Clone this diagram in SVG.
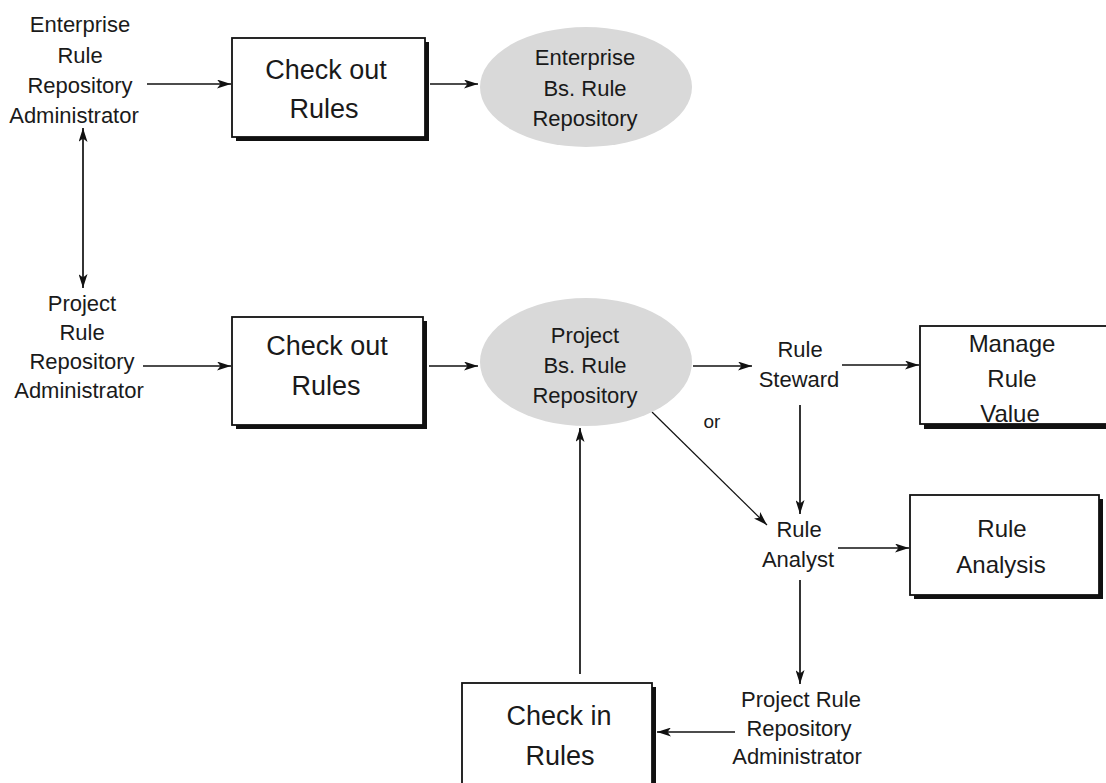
<svg xmlns="http://www.w3.org/2000/svg" width="1106" height="783" viewBox="0 0 1106 783">
  <style>
    .lbl { font-family: "Liberation Sans", Arial, sans-serif; font-size: 22px; fill: #1a1a1a; text-anchor: middle; }
    .big { font-family: "Liberation Sans", Arial, sans-serif; font-size: 27px; fill: #1a1a1a; text-anchor: middle; }
    .mid { font-family: "Liberation Sans", Arial, sans-serif; font-size: 24px; fill: #1a1a1a; text-anchor: middle; }
    .box { fill: #ffffff; stroke: #111; stroke-width: 1.8; }
    .shadow { fill: #111; }
    .repo { fill: #d9d9d9; stroke: none; }
    .edge { stroke: #111; stroke-width: 1.7; fill: none; }
    .thin { stroke: #111; stroke-width: 1.2; fill: none; }
  </style>
  <defs>
    <marker id="arrow" viewBox="0 0 14 9" refX="14" refY="4.5" markerWidth="14" markerHeight="9" markerUnits="userSpaceOnUse" orient="auto-start-reverse">
      <path d="M0,0 L14,4.5 L0,9 L3.5,4.5 z" fill="#111"/>
    </marker>
  </defs>
  <rect width="1106" height="783" fill="#ffffff"/>

  <!-- connectors -->
  <g id="connectors">
    <line class="edge" x1="147" y1="84" x2="231" y2="84" marker-end="url(#arrow)"/>
    <line class="edge" x1="430" y1="84" x2="478" y2="84" marker-end="url(#arrow)"/>
    <line class="edge" x1="83" y1="128" x2="83" y2="288" marker-start="url(#arrow)" marker-end="url(#arrow)"/>
    <line class="edge" x1="143" y1="366" x2="231" y2="366" marker-end="url(#arrow)"/>
    <line class="edge" x1="429" y1="366" x2="478" y2="366" marker-end="url(#arrow)"/>
    <line class="edge" x1="693" y1="366" x2="752" y2="366" marker-end="url(#arrow)"/>
    <line class="edge" x1="842" y1="365" x2="919" y2="365" marker-end="url(#arrow)"/>
    <line class="edge" x1="800" y1="405" x2="800" y2="514" marker-end="url(#arrow)"/>
    <line class="thin" x1="652" y1="412" x2="767" y2="525" marker-end="url(#arrow)"/>
    <text class="lbl" x="712" y="428" style="font-size:19px">or</text>
    <line class="edge" x1="838" y1="548" x2="909" y2="548" marker-end="url(#arrow)"/>
    <line class="edge" x1="800" y1="580" x2="800" y2="684" marker-end="url(#arrow)"/>
    <line class="edge" x1="735" y1="732" x2="657" y2="732" marker-end="url(#arrow)"/>
    <line class="edge" x1="580" y1="674" x2="580" y2="428" marker-end="url(#arrow)"/>
  </g>

  <!-- actors -->
  <g id="enterprise-admin">
    <text class="lbl" x="80" y="32">Enterprise</text>
    <text class="lbl" x="80" y="63">Rule</text>
    <text class="lbl" x="80" y="93">Repository</text>
    <text class="lbl" x="74" y="123">Administrator</text>
  </g>
  <g id="project-admin">
    <text class="lbl" x="82" y="311">Project</text>
    <text class="lbl" x="82" y="340">Rule</text>
    <text class="lbl" x="82" y="369">Repository</text>
    <text class="lbl" x="79" y="398">Administrator</text>
  </g>
  <g id="rule-steward">
    <text class="lbl" x="800" y="357">Rule</text>
    <text class="lbl" x="799" y="387">Steward</text>
  </g>
  <g id="rule-analyst">
    <text class="lbl" x="799" y="537">Rule</text>
    <text class="lbl" x="798" y="567">Analyst</text>
  </g>
  <g id="project-admin-2">
    <text class="lbl" x="801" y="707">Project Rule</text>
    <text class="lbl" x="799" y="736">Repository</text>
    <text class="lbl" x="797" y="764">Administrator</text>
  </g>

  <!-- processes -->
  <g id="checkout-enterprise">
    <rect class="shadow" x="236" y="42" width="193" height="99"/>
    <rect class="box" x="232" y="38" width="193" height="99"/>
    <text class="big" x="326" y="79">Check out</text>
    <text class="big" x="324" y="118">Rules</text>
  </g>
  <g id="checkout-project">
    <rect class="shadow" x="236" y="321" width="191" height="108"/>
    <rect class="box" x="232" y="317" width="191" height="108"/>
    <text class="big" x="327" y="355">Check out</text>
    <text class="big" x="326" y="395">Rules</text>
  </g>
  <g id="manage-rule-value">
    <rect class="shadow" x="924" y="330" width="200" height="99"/>
    <rect class="box" x="920" y="326" width="200" height="98"/>
    <text class="mid" x="1012" y="352">Manage</text>
    <text class="mid" x="1012" y="387">Rule</text>
    <text class="mid" x="1010" y="422">Value</text>
  </g>
  <g id="rule-analysis">
    <rect class="shadow" x="914" y="499" width="189" height="100"/>
    <rect class="box" x="910" y="495" width="189" height="100"/>
    <text class="mid" x="1002" y="537">Rule</text>
    <text class="mid" x="1001" y="573">Analysis</text>
  </g>
  <g id="checkin-rules">
    <rect class="shadow" x="466" y="687" width="190" height="110"/>
    <rect class="box" x="462" y="683" width="190" height="110"/>
    <text class="big" x="559" y="725">Check in</text>
    <text class="big" x="560" y="765">Rules</text>
  </g>

  <!-- repositories -->
  <g id="enterprise-repository">
    <ellipse class="repo" cx="586" cy="87" rx="106" ry="60"/>
    <text class="lbl" x="585" y="65">Enterprise</text>
    <text class="lbl" x="585" y="96">Bs. Rule</text>
    <text class="lbl" x="585" y="126">Repository</text>
  </g>
  <g id="project-repository">
    <ellipse class="repo" cx="586" cy="362" rx="106" ry="64"/>
    <text class="lbl" x="585" y="343">Project</text>
    <text class="lbl" x="585" y="373">Bs. Rule</text>
    <text class="lbl" x="585" y="403">Repository</text>
  </g>
</svg>
